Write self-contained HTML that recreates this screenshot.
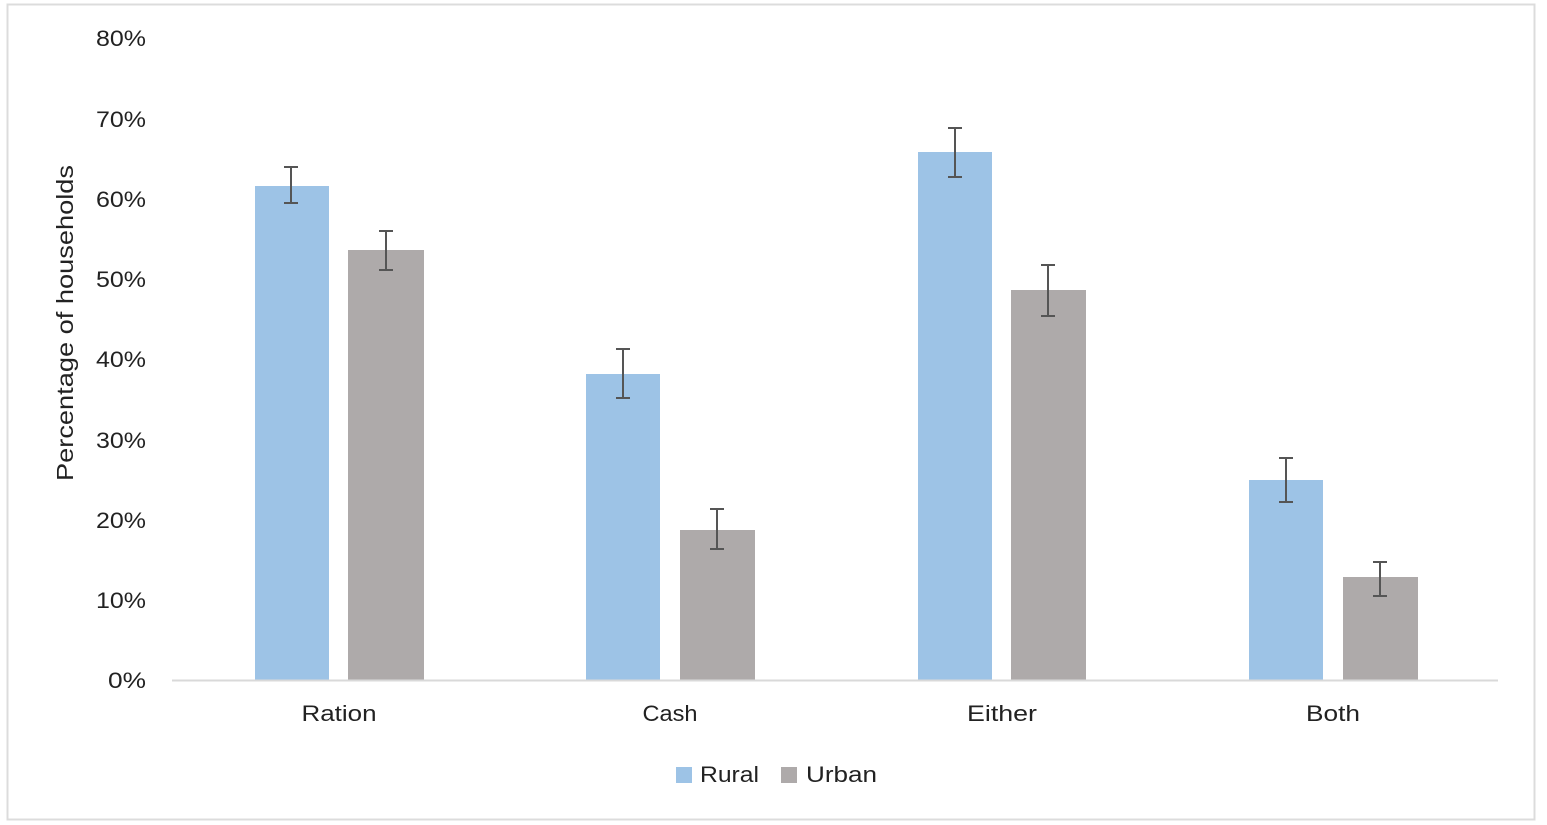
<!DOCTYPE html>
<html><head><meta charset="utf-8"><style>
html,body{margin:0;padding:0;background:#fff;}
svg{display:block;}
text{font-family:"Liberation Sans","DejaVu Sans",sans-serif;fill:#222;}
</style></head><body>
<svg width="1547" height="825" viewBox="0 0 1547 825">
<rect x="7.5" y="4.5" width="1527" height="815" fill="#fff" stroke="#dcdcdc" stroke-width="2"/>
<g font-size="22" text-anchor="end">
<text x="146" y="46" textLength="50" lengthAdjust="spacingAndGlyphs">80%</text>
<text x="146" y="127" textLength="50" lengthAdjust="spacingAndGlyphs">70%</text>
<text x="146" y="207" textLength="50" lengthAdjust="spacingAndGlyphs">60%</text>
<text x="146" y="287" textLength="50" lengthAdjust="spacingAndGlyphs">50%</text>
<text x="146" y="367" textLength="50" lengthAdjust="spacingAndGlyphs">40%</text>
<text x="146" y="448" textLength="50" lengthAdjust="spacingAndGlyphs">30%</text>
<text x="146" y="528" textLength="50" lengthAdjust="spacingAndGlyphs">20%</text>
<text x="146" y="608" textLength="50" lengthAdjust="spacingAndGlyphs">10%</text>
<text x="146" y="688" textLength="38" lengthAdjust="spacingAndGlyphs">0%</text>
</g>
<text transform="translate(73,323) rotate(-90)" font-size="23" text-anchor="middle" textLength="316" lengthAdjust="spacingAndGlyphs">Percentage of households</text>
<g fill="#9dc3e6">
<rect x="255" y="186" width="74" height="494"/>
<rect x="586" y="374" width="74" height="306"/>
<rect x="918" y="152" width="74" height="528"/>
<rect x="1249" y="480" width="74" height="200"/>
</g>
<g fill="#aeaaaa">
<rect x="348" y="250" width="76" height="430"/>
<rect x="680" y="530" width="75" height="150"/>
<rect x="1011" y="290" width="75" height="390"/>
<rect x="1343" y="577" width="75" height="103"/>
</g>
<line x1="172" y1="680.5" x2="1498" y2="680.5" stroke="#d9d9d9" stroke-width="2"/>
<g stroke="#555" stroke-width="2" fill="none">
<path d="M291 167V203M284 167H298M284 203H298"/>
<path d="M386 231V270M379 231H393M379 270H393"/>
<path d="M623 349V398M616 349H630M616 398H630"/>
<path d="M717 509V549M710 509H724M710 549H724"/>
<path d="M955 128V177M948 128H962M948 177H962"/>
<path d="M1048 265V316M1041 265H1055M1041 316H1055"/>
<path d="M1286 458V502M1279 458H1293M1279 502H1293"/>
<path d="M1380 562V596M1373 562H1387M1373 596H1387"/>
</g>
<g font-size="22" text-anchor="middle">
<text x="339" y="721" textLength="75" lengthAdjust="spacingAndGlyphs">Ration</text>
<text x="670" y="721" textLength="55" lengthAdjust="spacingAndGlyphs">Cash</text>
<text x="1002" y="721" textLength="70" lengthAdjust="spacingAndGlyphs">Either</text>
<text x="1333" y="721" textLength="54" lengthAdjust="spacingAndGlyphs">Both</text>
</g>
<rect x="676" y="767" width="16" height="16" fill="#9dc3e6"/>
<text x="700" y="782" font-size="22" textLength="59" lengthAdjust="spacingAndGlyphs">Rural</text>
<rect x="781" y="767" width="16" height="16" fill="#aeaaaa"/>
<text x="806" y="782" font-size="22" textLength="71" lengthAdjust="spacingAndGlyphs">Urban</text>
</svg>
</body></html>
